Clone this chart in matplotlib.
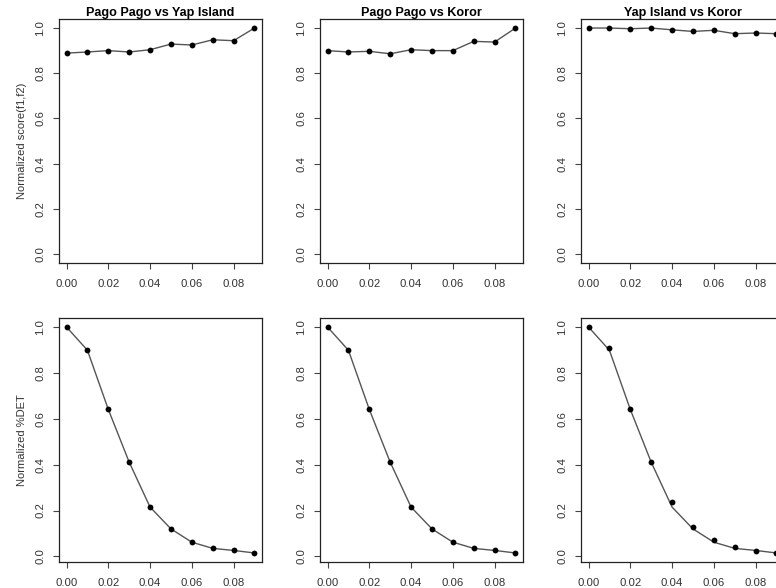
import matplotlib
matplotlib.use('Agg')
import matplotlib.pyplot as plt

plt.rcParams['font.family'] = ['Liberation Sans', 'DejaVu Sans']

threshold = [0.00, 0.01, 0.02, 0.03, 0.04, 0.05, 0.06, 0.07, 0.08, 0.09]

titles = ['Pago Pago vs Yap Island', 'Pago Pago vs Koror', 'Yap Island vs Koror']
row_labels = ['Normalized score(f1,f2)', 'Normalized %DET']

# normalized score per pair
score_pp_yap = [0.889, 0.894, 0.900, 0.894, 0.904, 0.929, 0.925, 0.948, 0.944, 1.000]
score_pp_kor = [0.900, 0.894, 0.897, 0.886, 0.904, 0.900, 0.900, 0.941, 0.938, 1.000]
score_yap_kor = [1.000, 1.000, 0.997, 1.000, 0.992, 0.985, 0.990, 0.975, 0.978, 0.975]

# normalized %DET per pair
det_pp_yap = [1.000, 0.899, 0.641, 0.411, 0.215, 0.120, 0.062, 0.035, 0.026, 0.015]
det_pp_kor = [1.000, 0.899, 0.641, 0.411, 0.215, 0.120, 0.062, 0.035, 0.026, 0.015]
det_yap_kor = [1.000, 0.907, 0.641, 0.411, 0.238, 0.129, 0.073, 0.042, 0.023, 0.015]
# connecting line of the last panel was drawn from the first pair's values
det_yap_kor_line = det_pp_yap

scores = [score_pp_yap, score_pp_kor, score_yap_kor]
dets = [det_pp_yap, det_pp_kor, det_yap_kor]
det_lines = [det_pp_yap, det_pp_kor, det_yap_kor_line]

W, H = 776, 588
fig = plt.figure(figsize=(W / 100, H / 100), dpi=100)

col_left = [59, 320, 581]
ax_w = 203
row_top = [19, 318]
ax_h = 244

xt = [0.00, 0.02, 0.04, 0.06, 0.08]
yt = [0.0, 0.2, 0.4, 0.6, 0.8, 1.0]


def style(ax):
    for s in ax.spines.values():
        s.set_color('#222222')
        s.set_linewidth(0.9)
    ax.set_xticks(xt)
    ax.set_xticklabels(['%.2f' % v for v in xt])
    ax.set_yticks(yt)
    ax.set_yticklabels(['%.1f' % v for v in yt])
    ax.tick_params(axis='both', direction='out', length=4.3, width=0.8,
                   color='#444444', labelsize=8.2, labelcolor='#333333')
    ax.tick_params(axis='x', pad=7.5)
    ax.tick_params(axis='y', pad=5.5)
    for lab in ax.get_yticklabels():
        lab.set_rotation(90)
        lab.set_va('center')


for r in range(2):
    for c in range(3):
        ax = fig.add_axes([col_left[c] / W, 1 - (row_top[r] + ax_h) / H,
                           ax_w / W, ax_h / H])
        if r == 0:
            ax.plot(threshold, scores[c], color='#555555', lw=1.0)
            ax.plot(threshold, scores[c], 'o', color='black', ms=4.2, mew=0)
            ax.set_ylim(-0.04, 1.04)
            ax.set_title(titles[c], fontsize=9.1, fontweight='bold', pad=0.5)
        else:
            ax.plot(threshold, det_lines[c], color='#555555', lw=1.0)
            ax.plot(threshold, dets[c], 'o', color='black', ms=4.2, mew=0)
            ax.margins(y=0.04)
        ax.set_xlim(-0.0036, 0.0936)
        style(ax)
        if c == 0:
            ax.set_ylabel(row_labels[r], fontsize=8, color='#333333', labelpad=6)

fig.savefig('out.png', dpi=100)
